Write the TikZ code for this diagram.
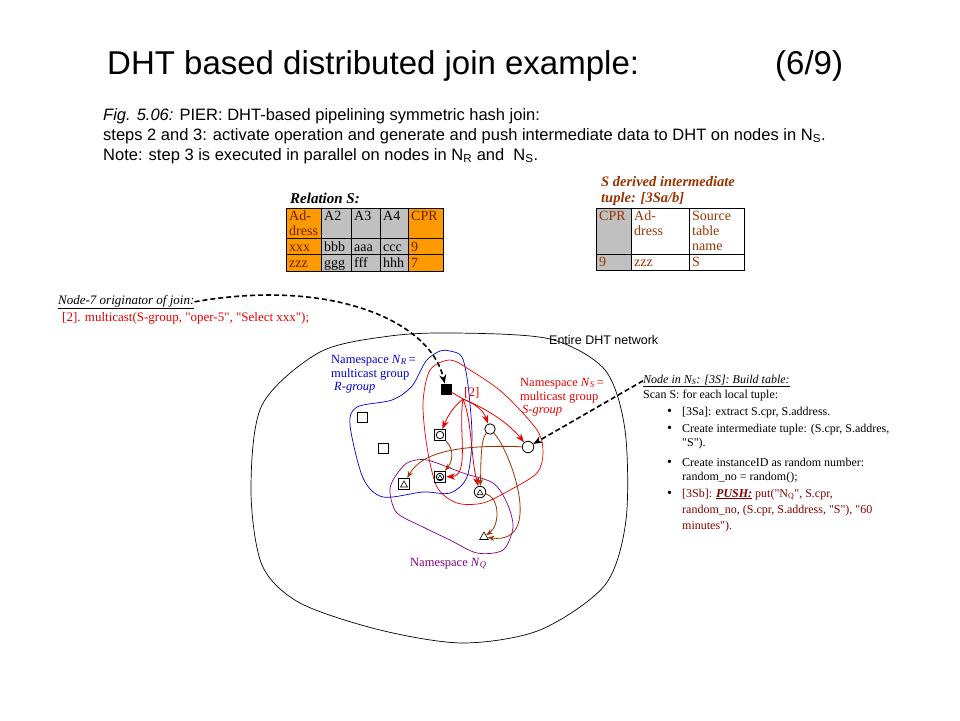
\documentclass[tikz,border=0pt]{standalone}
\usepackage{fontspec}
\setmainfont{Liberation Serif}
\setsansfont{Liberation Sans}
\usetikzlibrary{arrows.meta,shapes.geometric}

\definecolor{sorange}{RGB}{255,153,0}
\definecolor{sgrey}{RGB}{192,192,192}
\definecolor{sbrown}{RGB}{153,51,0}
\definecolor{sdeep}{RGB}{102,34,0}
\definecolor{sred}{RGB}{230,0,0}
\definecolor{sblue}{RGB}{0,0,204}
\definecolor{spurple}{RGB}{128,0,128}
\definecolor{sdarkred}{RGB}{128,0,0}
\newcommand{\qt}{\textquotedbl}

\begin{document}
\begin{tikzpicture}[x=1pt, y=-1pt,
    every node/.style={inner sep=0pt, anchor=base west},
    title/.style={font=\sffamily\fontsize{33}{38}\selectfont},
    caption/.style={font=\sffamily\fontsize{16.5}{20}\selectfont},
    tab/.style={font=\fontsize{14}{16}\selectfont},
    txt/.style={font=\fontsize{13}{15}\selectfont},
    nstxt/.style={font=\fontsize{12.5}{15}\selectfont},
    rtxt/.style={font=\fontsize{12}{14}\selectfont},
    markbase/.style={draw, anchor=center, line width=0.8pt, fill=white},
    sqmark/.style={markbase, rectangle, minimum size=10pt},
    circmark/.style={markbase, circle, minimum size=10.5pt},
    trimark/.style={markbase, regular polygon, regular polygon sides=3, minimum size=8pt, line width=0.6pt},
    blob/.style={line width=0.7pt},
    redarr/.style={draw=sred, line width=0.8pt, -{Stealth[length=9pt,width=6.5pt]}},
    brownarr/.style={draw=sbrown, line width=0.8pt, -{Stealth[length=7pt,width=5pt]}},
    dasharr/.style={draw=black, line width=1.6pt, dash pattern=on 5pt off 3pt, -{Stealth[length=9pt,width=7pt]}}]

\useasboundingbox (0,0) rectangle (960,720);

\node[title] (head) at (107,74) {DHT based distributed join example:};
\node[title] (part) at (775,74) {(6/9)};

\node[caption] (cap1) at (103,120) {\textit{Fig. 5.06:} PIER: DHT-based pipelining symmetric hash join:};
\node[caption] (cap2) at (103,140) {steps 2 and 3: activate operation and generate and push intermediate data to DHT on nodes in N\textsubscript{S}.};
\node[caption] (cap3) at (103,160) {Note: step 3 is executed in parallel on nodes in N\textsubscript{R} and\ \ N\textsubscript{S}.};

\node[font=\bfseries\itshape\fontsize{15}{17}\selectfont] (relS) at (290,203) {Relation S:};
\fill[sorange] (286,208) rectangle (321,271);
\fill[sgrey] (321,208) rectangle (408,271);
\fill[sorange] (408,208) rectangle (443,271);
\draw[line width=0.8pt] (286,208) rectangle (443,271);
\foreach \x in {321,351,380,408} \draw[line width=0.8pt] (\x,208) -- (\x,271);
\foreach \y in {238,254} \draw[line width=0.8pt] (286,\y) -- (443,\y);
\node[tab, text=sdeep] (sAd) at (289,220) {Ad-};
\node[tab, text=sdeep] (sdress) at (289,235) {dress};
\node[tab] (sA2) at (324,220) {A2};
\node[tab] (sA3) at (354,220) {A3};
\node[tab] (sA4) at (383,220) {A4};
\node[tab, text=sdeep] (sCPR) at (411,220) {CPR};
\foreach \x/\a/\b/\c in {289/xxx/zzz/sdeep, 324/bbb/ggg/black, 354/aaa/fff/black, 383/ccc/hhh/black, 411/9/7/sdeep} {
    \node[tab, text=\c] (s-\a) at (\x,251) {\a};
    \node[tab, text=\c] (s-\b) at (\x,267) {\b};
}

\node[font=\bfseries\itshape\fontsize{14.5}{16}\selectfont, text=sbrown] (tup1) at (601,186) {S derived intermediate};
\node[font=\bfseries\itshape\fontsize{14.5}{16}\selectfont, text=sbrown] (tup2) at (601,202) {tuple: [3Sa/b]};
\fill[sgrey] (596,208) rectangle (631,270);
\draw[line width=0.8pt] (596,208) rectangle (744,270);
\foreach \x in {631,689} \draw[line width=0.8pt] (\x,208) -- (\x,270);
\draw[line width=0.8pt] (596,254) -- (744,254);
\begin{scope}[every node/.append style={tab, text=sbrown}]
\node (tCPR) at (599,220) {CPR};
\node (tAd) at (634,220) {Ad-};
\node (tdress) at (634,235) {dress};
\node (tsource) at (692,220) {Source};
\node (ttable) at (692,235) {table};
\node (tname) at (692,250) {name};
\node (t9) at (599,266) {9};
\node (tzzz) at (634,266) {zzz};
\node (tS) at (692,266) {S};
\end{scope}

\node[txt] (orig) at (58,304) {\textit{\underline{Node-7 originator of join:}}};
\node[txt, text=sred] (mcast) at (62,321) {[2]. multicast(S-group, \qt oper-5\qt, \qt Select xxx\qt);};

\draw[blob] plot[smooth cycle] coordinates {(457,333) (550,339) (605,370) (625,430) (626,520) (605,585) (540,630) (463,643) (380,630) (300,603) (262,565) (251,490) (262,405) (320,352) (390,336)};
\node[font=\sffamily\fontsize{12.5}{14}\selectfont] (entire) at (549,344) {Entire DHT network};

\draw[blob, sblue] plot[smooth cycle] coordinates {(450,351) (462,357) (468,385) (472,437) (467,477) (450,493) (423,492) (383,497) (363,478) (350,425) (357,407) (392,400) (412,386) (426,361) (440,351)};
\draw[blob, sred] plot[smooth cycle] coordinates {(450,360) (470,370) (503,393) (537,430) (543,453) (537,473) (510,490) (483,503) (457,503) (437,487) (427,447) (423,403) (430,370)};
\draw[blob, spurple] plot[smooth cycle] coordinates {(393,480) (407,463) (427,460) (463,473) (493,483) (507,503) (513,527) (503,550) (477,553) (450,540) (423,527) (397,513) (390,493)};

\node[nstxt, text=sblue] (nrA) at (331,363) {Namespace \textit{N}\textsubscript{\textit{R}}\,=};
\node[nstxt, text=sblue] (nrB) at (331,377) {multicast group};
\node[nstxt, text=sblue] (nrC) at (334,390) {\textit{R-group}};
\node[nstxt, text=sred] (nsA) at (520,386) {Namespace \textit{N}\textsubscript{\textit{S}}\,=};
\node[nstxt, text=sred] (nsB) at (520,400) {multicast group};
\node[nstxt, text=sred] (nsC) at (522,413) {\textit{S-group}};
\node[nstxt, text=spurple] (nq) at (410,566) {Namespace \textit{N}\textsubscript{\textit{Q}}};
\node[txt, text=sred] (two) at (464,396) {[2]};

\node[sqmark, fill=black] (sq0) at (446,389) {};
\node[sqmark] (sq1) at (362,417) {};
\node[sqmark] (sq2) at (383,448) {};
\node[sqmark, minimum size=11pt] (sqc) at (440,435) {};
\node[circmark, minimum size=7.5pt] (sqcin) at (sqc) {};
\node[sqmark, minimum size=11pt] (sqt1) at (404,484) {};
\node[trimark] (sqt1in) at (404,485) {};
\node[sqmark, minimum size=11pt, line width=1.4pt] (sqt2) at (440,477) {};
\node[circmark, minimum size=7.5pt] (sqt2c) at (sqt2) {};
\node[trimark, minimum size=6pt] (sqt2in) at (440,478) {};
\node[circmark] (c1) at (490,429) {};
\node[circmark, minimum size=11.5pt] (c2) at (528,447) {};
\node[circmark, minimum size=11.5pt] (ct) at (480,492) {};
\node[trimark, minimum size=7pt] (ctin) at (480,493) {};
\node[trimark, minimum size=10pt] (tq) at (484,537) {};

\coordinate (fork) at (463,399);
\draw[draw=sred, line width=0.8pt] (sq0) -- (fork);
\draw[redarr] (fork) .. controls (478,405) and (484,412) .. (c1);
\draw[redarr] (fork) .. controls (490,410) and (510,425) .. (c2);
\draw[redarr] (fork) .. controls (455,405) and (448,415) .. (sqc);
\draw[redarr] (fork) .. controls (458,430) and (470,476) .. (sqt2);
\draw[redarr] (fork) .. controls (472,420) and (471,460) .. (ct);

\draw[brownarr] (sqc) .. controls (455,450) and (452,462) .. (sqt2);
\draw[brownarr] (c2) .. controls (450,444) and (420,455) .. (sqt1);
\draw[brownarr] (c1) .. controls (480,440) and (481,470) .. (ct);
\draw[brownarr] (c1) .. controls (510,450) and (545,545) .. (tq);
\draw[brownarr] (ct) .. controls (500,498) and (500,525) .. (tq);

\node[rtxt] (nodeS) at (643,383) {\textit{\underline{Node in N\textsubscript{S}: [3S]: Build table:}}};
\node[rtxt] (scan) at (643,398) {Scan S: for each local tuple:};
\foreach \y [count=\i] in {415,432,466,497} \node[font=\fontsize{14}{14}\selectfont] (bul\i) at (667,\y) {\textbullet};
\node[rtxt] (it1) at (682,415) {[3Sa]: extract S.cpr, S.address.};
\node[rtxt] (it2a) at (682,432) {Create intermediate tuple: (S.cpr, S.addres,};
\node[rtxt] (it2b) at (682,446) {\qt S\qt).};
\node[rtxt] (it3a) at (682,466) {Create instanceID as random number:};
\node[rtxt] (it3b) at (682,480) {random\_no = random();};
\node[rtxt, text=sdarkred] (it4a) at (682,497) {[3Sb]: \textbf{\textit{\underline{PUSH:}}} put(\qt N\textsubscript{Q}\qt, S.cpr,};
\node[rtxt, text=sdarkred] (it4b) at (682,513) {random\_no, (S.cpr, S.address, \qt S\qt), \qt 60};
\node[rtxt, text=sdarkred] (it4c) at (682,529) {minutes\qt).};

\draw[dasharr] (orig.east) .. controls (330,278) and (430,320) .. (sq0);
\draw[dasharr] (nodeS.west) -- (c2);
\end{tikzpicture}
\end{document}
